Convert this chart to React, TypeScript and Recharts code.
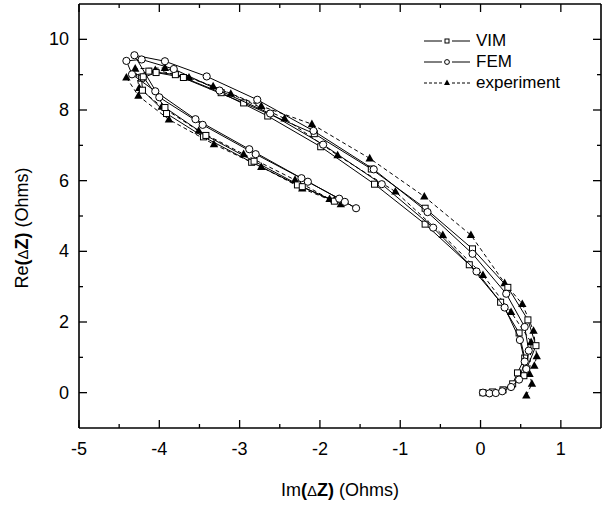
import { ReferenceLine, Scatter, ScatterChart, XAxis, YAxis } from 'recharts';

const FONT = '"Liberation Sans", Arial, Helvetica, sans-serif';

// Im(dZ), Re(dZ) pairs along each trajectory
const vimPoints: [number, number][] = [
  [0.03, 0.0], [0.15, 0.02], [0.28, 0.08], [0.4, 0.25], [0.46, 0.56], [0.55, 0.98], [0.48, 1.69],
  [0.25, 2.56], [-0.14, 3.62], [-0.69, 4.77], [-1.32, 5.9], [-1.99, 6.96], [-2.65, 7.83],
  [-3.23, 8.49], [-3.7, 8.92], [-4.04, 9.06], [-4.22, 8.9], [-4.21, 8.56], [-3.91, 7.9],
  [-3.45, 7.24], [-2.85, 6.52], [-2.28, 5.88], [-1.82, 5.42], [-2.22, 5.83], [-2.82, 6.55],
  [-3.42, 7.28], [-3.93, 8.07], [-4.2, 8.94], [-4.13, 9.1], [-3.8, 9.0], [-2.95, 8.2],
  [-2.07, 7.33], [-1.36, 6.33], [-0.69, 5.22], [-0.1, 4.07], [0.34, 2.98], [0.59, 2.06],
  [0.69, 1.33], [0.54, 0.48],
];

const femPoints: [number, number][] = [
  [0.03, 0.0], [0.11, -0.02], [0.19, -0.01], [0.27, 0.04], [0.38, 0.16], [0.48, 0.37], [0.55, 0.88],
  [0.49, 1.49], [0.3, 2.41], [-0.05, 3.43], [-0.59, 4.67], [-1.23, 5.9], [-1.96, 7.02],
  [-2.62, 7.9], [-3.25, 8.55], [-3.82, 9.16], [-4.22, 9.43], [-4.41, 9.39], [-4.34, 9.01],
  [-4.05, 8.53], [-3.55, 7.74], [-2.88, 6.89], [-2.23, 6.07], [-1.76, 5.49], [-1.55, 5.22],
  [-1.69, 5.4], [-2.15, 5.97], [-2.8, 6.75], [-3.46, 7.58], [-4.0, 8.36], [-4.31, 9.55],
  [-3.93, 9.38], [-3.41, 8.95], [-2.78, 8.29], [-2.08, 7.41], [-1.33, 6.32], [-0.66, 5.11],
  [-0.1, 3.93], [0.32, 2.8], [0.55, 1.86], [0.6, 1.19], [0.57, 0.67],
];

const expPoints: [number, number][] = [
  [0.57, -0.08], [0.64, 0.25], [0.61, 0.53], [0.63, 1.43], [0.38, 2.28], [0.03, 3.33],
  [-0.47, 4.46], [-1.06, 5.69], [-1.78, 6.72], [-2.44, 7.76], [-3.11, 8.46], [-3.63, 8.92],
  [-4.05, 9.13], [-4.41, 8.92], [-4.26, 8.4], [-3.88, 7.73], [-3.32, 7.03], [-2.73, 6.39],
  [-2.22, 5.78], [-1.74, 5.33], [-1.82, 5.45], [-1.88, 5.48], [-2.31, 6.02], [-2.95, 6.75],
  [-3.51, 7.41], [-3.97, 8.09], [-4.25, 8.62], [-4.3, 9.17], [-3.93, 9.19], [-3.33, 8.67],
  [-2.73, 8.11], [-2.1, 7.6], [-1.38, 6.63], [-0.7, 5.55], [-0.12, 4.46], [0.3, 3.1],
  [0.52, 2.51], [0.66, 1.75], [0.7, 1.03], [0.67, 0.76],
];

const xTicks = [-5, -4.5, -4, -3.5, -3, -2.5, -2, -1.5, -1, -0.5, 0, 0.5, 1];
const yTicks = [0, 1, 2, 3, 4, 5, 6, 7, 8, 9, 10];
const legendNames = ['VIM', 'FEM', 'experiment'];

const W = 602;
const H = 506;
const PLOT = { left: 79, top: 4, right: 601, bottom: 428 };

const toRows = (pts: [number, number][]) => pts.map(([x, y]) => ({ x, y }));

const SquareDot = ({ cx, cy }: any) => (
  <rect x={cx - 3} y={cy - 3} width={6} height={6} fill="#fff" stroke="#000" strokeWidth={1} />
);
const CircleDot = ({ cx, cy }: any) => (
  <circle cx={cx} cy={cy} r={3.6} fill="#fff" stroke="#000" strokeWidth={1} />
);
const TriDot = ({ cx, cy }: any) => (
  <path d={`M${cx},${cy - 4.6}L${cx + 4.2},${cy + 3}L${cx - 4.2},${cy + 3}Z`} fill="#000" />
);

const XTick = ({ x, payload }: any) => {
  const v = payload.value;
  const major = Number.isInteger(v);
  const len = major ? 8 : 4;
  return (
    <g>
      <line x1={x} x2={x} y1={PLOT.bottom} y2={PLOT.bottom - len} stroke="#000" strokeWidth={1.3} />
      <line x1={x} x2={x} y1={PLOT.top} y2={PLOT.top + len} stroke="#000" strokeWidth={1.3} />
      {major && (
        <text x={x} y={455} textAnchor="middle" fontSize={18} fontFamily={FONT} fill="#000">
          {v}
        </text>
      )}
    </g>
  );
};

const YTick = ({ y, payload }: any) => {
  const v = payload.value;
  const major = v % 2 === 0;
  const len = major ? 8 : 4;
  return (
    <g>
      <line x1={PLOT.left} x2={PLOT.left + len} y1={y} y2={y} stroke="#000" strokeWidth={1.3} />
      <line x1={PLOT.right} x2={PLOT.right - len} y1={y} y2={y} stroke="#000" strokeWidth={1.3} />
      {major && (
        <text x={69} y={y + 6} textAnchor="end" fontSize={18} fontFamily={FONT} fill="#000">
          {v}
        </text>
      )}
    </g>
  );
};

const LegendMark = ({ i }: { i: number }) => {
  const dash = i === 2 ? '3 2' : undefined;
  return (
    <svg width={46} height={12} style={{ display: 'block' }}>
      <line x1={0} x2={18} y1={6} y2={6} stroke="#000" strokeDasharray={dash} />
      <line x1={28} x2={46} y1={6} y2={6} stroke="#000" strokeDasharray={dash} />
      {i === 0 && <rect x={21} y={4} width={4} height={4} fill="#fff" stroke="#000" />}
      {i === 1 && <circle cx={23} cy={6} r={2.4} fill="#fff" stroke="#000" />}
      {i === 2 && <path d="M23,2.5L26,8L20,8Z" fill="#000" />}
    </svg>
  );
};

export default function App() {
  return (
    <div style={{ position: 'absolute', left: 0, top: 0, width: W, height: H, background: '#fff', fontFamily: FONT }}>
      <ScatterChart width={W} height={H} margin={{ top: PLOT.top, right: W - PLOT.right, left: 0, bottom: 0 }}>
        <XAxis
          type="number"
          dataKey="x"
          domain={[-5, 1.5]}
          ticks={xTicks}
          interval={0}
          tick={<XTick />}
          tickLine={false}
          tickSize={0}
          height={H - PLOT.bottom}
          axisLine={{ stroke: '#000', strokeWidth: 1.6 }}
          allowDataOverflow
        />
        <YAxis
          type="number"
          dataKey="y"
          domain={[-1, 11]}
          ticks={yTicks}
          interval={0}
          tick={<YTick />}
          tickLine={false}
          tickSize={0}
          width={PLOT.left}
          axisLine={{ stroke: '#000', strokeWidth: 1.6 }}
          allowDataOverflow
        />
        <ReferenceLine y={11} stroke="#000" strokeWidth={1.6} />
        <ReferenceLine x={1.5} stroke="#000" strokeWidth={1.6} />
        <Scatter
          name="experiment"
          data={toRows(expPoints)}
          line={{ stroke: '#000', strokeWidth: 1, strokeDasharray: '4 3' }}
          lineType="joint"
          shape={<TriDot />}
          isAnimationActive={false}
        />
        <Scatter
          name="VIM"
          data={toRows(vimPoints)}
          line={{ stroke: '#000', strokeWidth: 1 }}
          lineType="joint"
          shape={<SquareDot />}
          isAnimationActive={false}
        />
        <Scatter
          name="FEM"
          data={toRows(femPoints)}
          line={{ stroke: '#000', strokeWidth: 1 }}
          lineType="joint"
          shape={<CircleDot />}
          isAnimationActive={false}
        />
      </ScatterChart>
      <svg width={W} height={H} style={{ position: 'absolute', left: 0, top: 0, pointerEvents: 'none' }}>
        <text x={340} y={496} textAnchor="middle" fontSize={18} fontFamily={FONT} fill="#000">
          Im<tspan fontWeight="bold">(</tspan>
          <tspan fontSize={15}>Δ</tspan>
          <tspan fontWeight="bold">Z)</tspan> (Ohms)
        </text>
        <text
          x={0}
          y={0}
          transform="translate(28,228) rotate(-90)"
          textAnchor="middle"
          fontSize={18}
          fontFamily={FONT}
          fill="#000"
        >
          Re<tspan fontWeight="bold">(</tspan>
          <tspan fontSize={15}>Δ</tspan>
          <tspan fontWeight="bold">Z)</tspan> (Ohms)
        </text>
      </svg>
      <div style={{ position: 'absolute', left: 424, top: 30, fontSize: 17, lineHeight: '21px', color: '#000' }}>
        {legendNames.map((name, i) => (
          <div key={name} style={{ display: 'flex', alignItems: 'center', height: 21 }}>
            <LegendMark i={i} />
            <span style={{ marginLeft: 6 }}>{name}</span>
          </div>
        ))}
      </div>
    </div>
  );
}
